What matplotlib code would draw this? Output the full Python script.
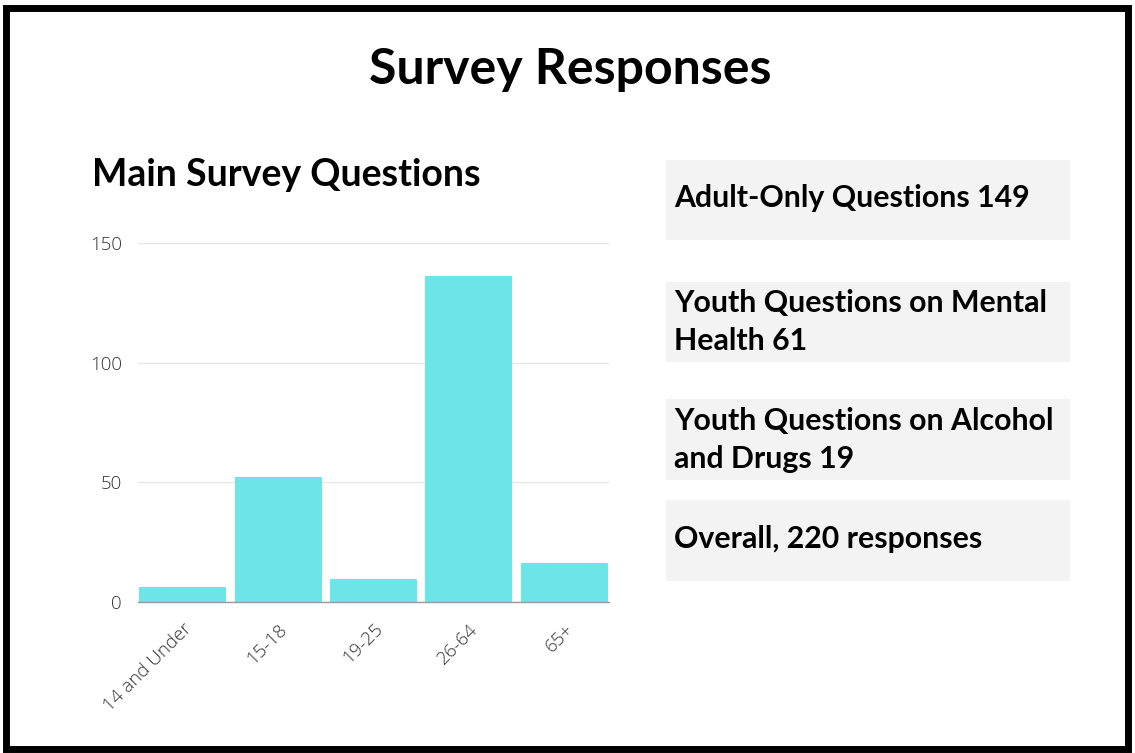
import matplotlib
matplotlib.use("Agg")
import matplotlib.pyplot as plt
from matplotlib.patches import Rectangle

categories = ["14 and Under", "15-18", "19-25", "26-64", "65+"]
values = [6, 52, 9, 136, 16]
yticks = [0, 50, 100, 150]
title = "Survey Responses"
subtitle = "Main Survey Questions"
boxes = ["Adult-Only Questions 149",
         "Youth Questions on Mental\nHealth 61",
         "Youth Questions on Alcohol\nand Drugs 19",
         "Overall, 220 responses"]

W, H = 1135, 753
fig = plt.figure(figsize=(W / 100, H / 100), dpi=100)
fig.patch.set_facecolor("white")

def fx(x): return x / W
def fy(y): return 1 - y / H

# border frame
fig.add_artist(Rectangle((fx(6), fy(749)), fx(1128) - fx(6), fy(8) - fy(749),
                         transform=fig.transFigure, fill=False,
                         edgecolor="black", linewidth=5))

fig.text(fx(570), fy(69), title, ha="center", va="center",
         fontsize=36, fontweight="bold", family="Lato")
fig.text(fx(92), fy(175), subtitle, ha="left", va="center",
         fontsize=27, fontweight="bold", family="Lato")

ax = fig.add_axes([fx(138), fy(602), fx(609) - fx(138), fy(243) - fy(602)])
x = range(len(categories))
ax.bar(x, values, width=0.89, color="#6ce5e8", edgecolor="#6ce5e8",
       linewidth=1.5, joinstyle="round", zorder=3)
ax.set_xlim(-0.47, 4.47)
ax.set_ylim(0, 150)
ax.set_yticks(yticks)
ax.set_yticklabels([str(v) for v in yticks])
ax.set_xticks(list(x))
ax.set_xticklabels(categories, rotation=45, ha="right", rotation_mode="anchor")
ax.grid(axis="y", color="#e6e6e6", linewidth=1, zorder=0)
for s in ["top", "right", "left"]:
    ax.spines[s].set_visible(False)
ax.spines["bottom"].set_color("#999999")
ax.spines["bottom"].set_linewidth(1)
ax.spines["bottom"].set_zorder(4)
ax.tick_params(axis="both", length=0, labelsize=13.5, labelcolor="#333333")
ax.tick_params(axis="y", pad=11.5)
ax.tick_params(axis="x", pad=13)
for lab in ax.get_xticklabels() + ax.get_yticklabels():
    lab.set_family("Open Sans")
    lab.set_fontweight("light")

# right info boxes
box_y = [(160, 240), (282, 362), (399, 480), (500, 581)]
text_y = [198, 322, 440, 539]
for (y0, y1), ty, txt in zip(box_y, text_y, boxes):
    fig.add_artist(Rectangle((fx(666), fy(y1)), fx(1070) - fx(666), fy(y0) - fy(y1),
                             transform=fig.transFigure, facecolor="#f3f3f3",
                             edgecolor="none"))
    fig.text(fx(674), fy(ty), txt, ha="left", va="center", fontsize=21.8,
             fontweight="bold", family="Lato", linespacing=1.4)

fig.savefig("out.png", dpi=100, facecolor="white")
